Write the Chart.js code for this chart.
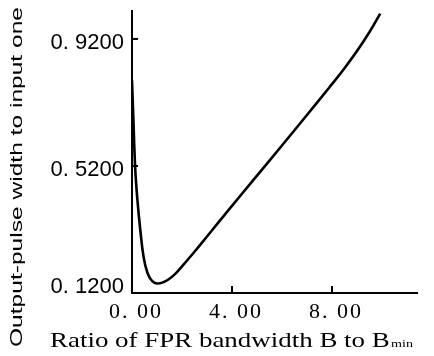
<!DOCTYPE html>
<html>
<head>
<meta charset="utf-8">
<script src="https://cdn.jsdelivr.net/npm/chart.js@4"></script>
<style>
  body { margin: 0; background: #fff; }
  canvas { display: block; }
</style>
</head>
<body>
<canvas id="grafico" width="434" height="356"></canvas>
<script>
// values
const ratioB = [0, 0.05, 0.13, 0.22, 0.33, 0.46, 0.62, 0.8, 1.0, 1.25, 1.5, 1.75, 2.0, 2.5, 3.0, 3.9, 4.9, 5.9, 6.9, 7.9, 8.5, 9.0, 9.5, 9.93];
const pulseRatio = [0.79, 0.68, 0.51, 0.41, 0.32, 0.235, 0.183, 0.158, 0.15, 0.154, 0.165, 0.182, 0.204, 0.25, 0.298, 0.385, 0.48, 0.575, 0.671, 0.768, 0.828, 0.882, 0.942, 1.0];

const xTicks = [0, 4, 8];
const xTickLabels = ["0. 00", "4. 00", "8. 00"];
const yTicks = [0.12, 0.52, 0.92];
const yTickLabels = ["0. 1200", "0. 5200", "0. 9200"];

const xTitle = "Ratio of FPR bandwidth B to B";
const xTitleSub = "min";
const yTitle = "Output-pulse width to input one";

// text, labels and inward ticks drawn on top of the chart
const textoEixos = {
    id: 'textoEixos',
    afterDraw(chart) {
        const ctx = chart.ctx;
        const a = chart.chartArea;
        const x = chart.scales.x;
        const y = chart.scales.y;
        ctx.save();
        ctx.strokeStyle = '#000';
        ctx.fillStyle = '#000';
        ctx.lineWidth = 2;

        // inward tick marks
        yTicks.forEach(v => {
            if (v <= y.min) return;
            const py = y.getPixelForValue(v);
            ctx.beginPath(); ctx.moveTo(a.left, py); ctx.lineTo(a.left + 6, py); ctx.stroke();
        });
        xTicks.forEach(v => {
            if (v <= x.min) return;
            const px = x.getPixelForValue(v);
            ctx.beginPath(); ctx.moveTo(px, a.bottom); ctx.lineTo(px, a.bottom - 7); ctx.stroke();
        });

        // y tick labels
        ctx.font = '22px "Liberation Sans", Arial, sans-serif';
        ctx.textAlign = 'right';
        ctx.textBaseline = 'alphabetic';
        yTicks.forEach((v, i) => {
            let py = y.getPixelForValue(v) + 2;
            if (py > a.bottom - 8) py = a.bottom - 8;
            ctx.fillText(yTickLabels[i], a.left - 8, py + 8);
        });

        // x tick labels
        ctx.font = '22px "Liberation Serif", "Times New Roman", serif';
        ctx.letterSpacing = '2px';
        ctx.textAlign = 'center';
        xTicks.forEach((v, i) => {
            const px = x.getPixelForValue(v);
            ctx.fillText(xTickLabels[i], px + 4, a.bottom + 25);
        });
        ctx.letterSpacing = '0px';

        // x title with subscript, fitted to the reference width
        ctx.textAlign = 'left';
        ctx.font = '21px "Liberation Serif", "Times New Roman", serif';
        const wMain = ctx.measureText(xTitle).width;
        ctx.font = '11px "Liberation Serif", "Times New Roman", serif';
        const wSub = ctx.measureText(xTitleSub).width;
        const sx = 363 / (wMain + wSub + 1);
        ctx.save();
        ctx.translate(50, 347);
        ctx.scale(sx, 1);
        ctx.font = '21px "Liberation Serif", "Times New Roman", serif';
        ctx.fillText(xTitle, 0, 0);
        ctx.font = '11px "Liberation Serif", "Times New Roman", serif';
        ctx.fillText(xTitleSub, wMain + 1, 0);
        ctx.restore();

        // y title rotated, fitted to the reference length
        ctx.font = '17px "Liberation Sans", Arial, sans-serif';
        const wY = ctx.measureText(yTitle).width;
        const sy = 340 / wY;
        ctx.save();
        ctx.translate(22, 347);
        ctx.rotate(-Math.PI / 2);
        ctx.scale(sy, 1);
        ctx.fillText(yTitle, 0, 0);
        ctx.restore();

        ctx.restore();
    }
};

var ctx1 = document.getElementById("grafico").getContext("2d");
var grafico = new Chart(ctx1, {
    type: 'line',
    data: {
        datasets: [{
            label: 'pulse',
            data: ratioB.map((b, i) => ({ x: b, y: pulseRatio[i] })),
            borderColor: '#000',
            borderWidth: 2.6,
            fill: false,
            pointRadius: 0,
            tension: 0.4
        }]
    },
    options: {
        responsive: false,
        animation: false,
        layout: {
            padding: { left: 132, top: 11, right: 17, bottom: 63 }
        },
        scales: {
            x: {
                type: 'linear',
                min: 0,
                max: 11.4,
                grid: { display: false, drawTicks: false },
                border: { display: true, color: '#000', width: 2 },
                ticks: { display: false }
            },
            y: {
                min: 0.12,
                max: 1.008,
                grid: { display: false, drawTicks: false },
                border: { display: true, color: '#000', width: 2 },
                ticks: { display: false }
            }
        },
        plugins: {
            legend: { display: false },
            tooltip: { enabled: false }
        }
    },
    plugins: [textoEixos]
});
</script>
</body>
</html>
